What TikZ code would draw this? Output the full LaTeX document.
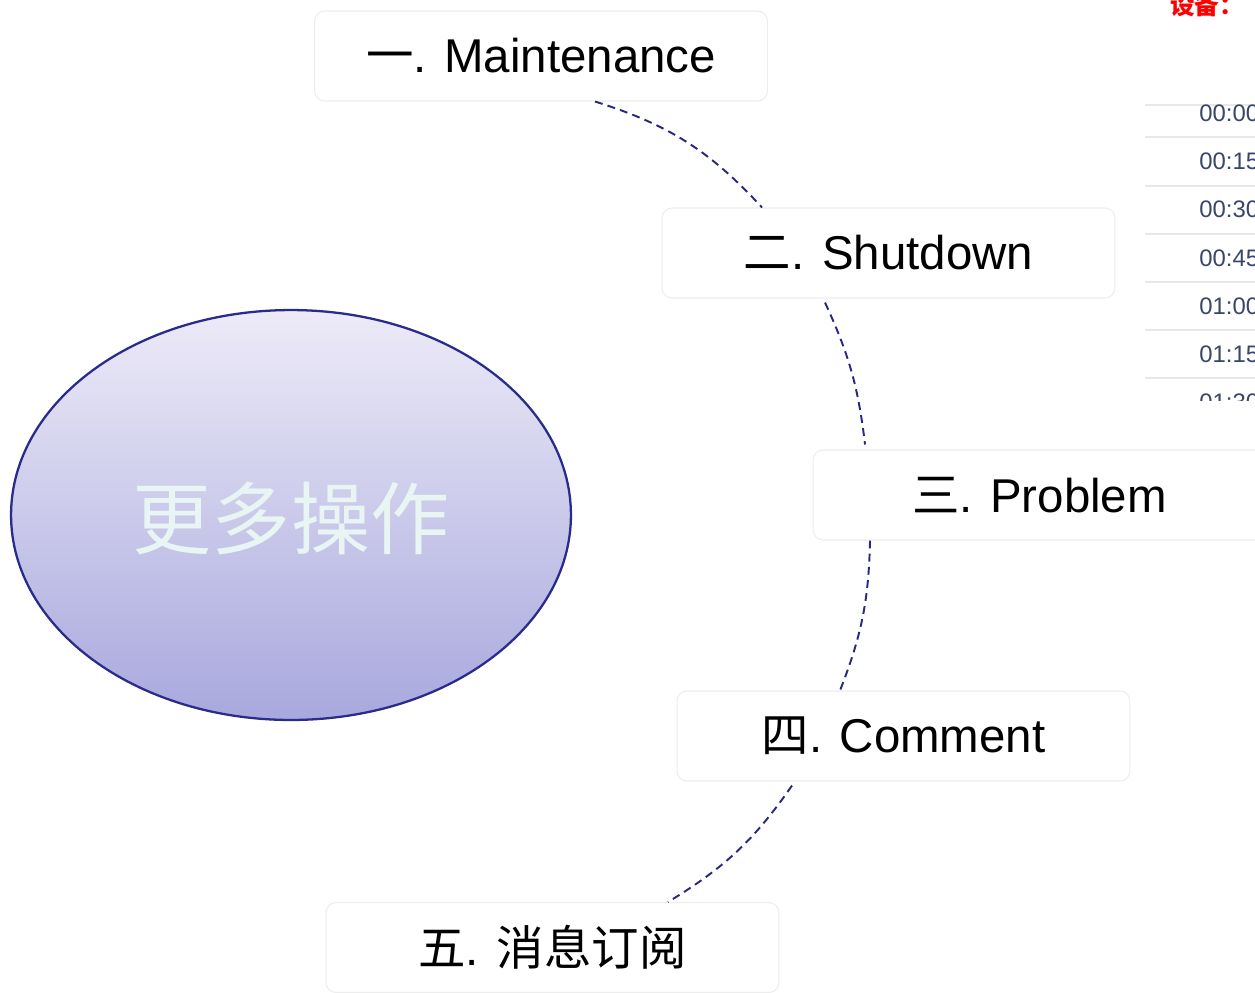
\documentclass[tikz,border=0pt]{standalone}
\usepackage{fontspec}
\setmainfont{Liberation Sans}
\newfontfamily\cjk{Noto Sans CJK SC}
\usetikzlibrary{shapes.geometric,calc}
\definecolor{linkblue}{RGB}{40,40,130}
\definecolor{elltop}{RGB}{237,235,247}
\definecolor{ellbot}{RGB}{168,168,222}
\definecolor{ellline}{RGB}{43,43,140}
\definecolor{glowtext}{RGB}{232,245,243}
\definecolor{timecol}{RGB}{58,70,105}
\definecolor{gridcol}{RGB}{232,232,232}
\begin{document}
\begin{tikzpicture}[x=0.02cm,y=-0.02cm,
  box/.style={draw=black!7, fill=white, rounded corners=0.2cm, minimum width=9.06cm,
    minimum height=1.8cm, line width=0.6pt, inner sep=0pt,
    font=\fontsize{27}{30}\selectfont},
  link/.style={draw=linkblue, line width=1.1pt, dash pattern=on 4.5pt off 3pt},
  timelbl/.style={anchor=west, inner sep=0pt, text=timecol, font=\fontsize{13.6}{14}\selectfont},
  gridline/.style={draw=gridcol, line width=1pt}]
\useasboundingbox (0,0) rectangle (1255,992);
\clip (0,0) rectangle (1255,992);

% central ellipse
\node[ellipse, draw=ellline, line width=1.3pt, top color=elltop, bottom color=ellbot,
  minimum width=11.2cm, minimum height=8.2cm] (core) at (291,515) {};
\node[font=\cjk\fontsize{45}{45}\selectfont, text=glowtext] (coretext) at (291,518) {更多操作};

% boxes
\node[box] (b1) at (541,56) {{\cjk 一}. Maintenance};
\node[box] (b2) at (888.5,253) {{\cjk 二}. Shutdown};
\node[box] (b3) at (1039.5,495) {{\cjk 三}. Problem};
\node[box] (b4) at (903.5,736) {{\cjk 四}. Comment};
\node[box] (b5) at (552.5,947.5) {{\cjk 五}. {\cjk 消息订阅}};

% dashed connectors
\coordinate (s1a) at ([xshift=1.08cm]b1.south);
\coordinate (s1b) at ([xshift=-2.53cm]b2.north);
\coordinate (s2a) at ([xshift=-1.27cm,yshift=-0.08cm]b2.south);
\coordinate (s2b) at ([xshift=-3.49cm,yshift=0.1cm]b3.north);
\coordinate (s3a) at ([xshift=-3.39cm]b3.south);
\coordinate (s3b) at ([xshift=-1.27cm]b4.north);
\coordinate (s4a) at ([xshift=-2.23cm,yshift=-0.08cm]b4.south);
\coordinate (s4b) at ([xshift=2.31cm]b5.north);
\draw[link] (s1a) to[bend left=15] (s1b);
\draw[link] (s2a) to[bend left=9] (s2b);
\draw[link] (s3a) to[bend left=10] (s3b);
\draw[link] (s4a) to[bend left=12] (s4b);

% partial table at right
\node[anchor=west, inner sep=0pt, text=red, font=\cjk\bfseries\fontsize{14}{14}\selectfont] (dev) at (1170,5) {设备：};
\begin{scope}
  \clip (1140,104) rectangle (1255,400);
  \foreach \yy in {105,137,186,234,282,330,378} {
    \draw[gridline] (1145,\yy) -- (1255,\yy);
  }
  \node[timelbl] (t0) at (1199,113) {00:00};
  \node[timelbl] (t1) at (1199,161) {00:15};
  \node[timelbl] (t2) at (1199,209) {00:30};
  \node[timelbl] (t3) at (1199,258) {00:45};
  \node[timelbl] (t4) at (1199,306) {01:00};
  \node[timelbl] (t5) at (1199,354) {01:15};
  \node[timelbl] (t6) at (1199,402) {01:30};
\end{scope}
\end{tikzpicture}
\end{document}
